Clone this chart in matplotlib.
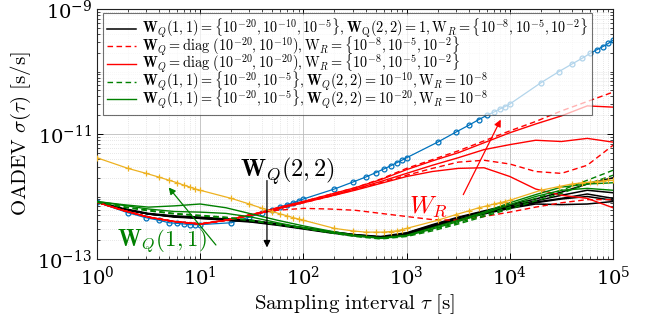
import numpy as np
import matplotlib
matplotlib.use("Agg")
import matplotlib.pyplot as plt
from matplotlib.ticker import FixedLocator, LogLocator, LogFormatterMathtext, NullFormatter

plt.rcParams['mathtext.fontset'] = 'cm'
plt.rcParams['font.family'] = ['DejaVu Serif']

# ---------------- data (log10 values) ----------------
# common tau grid for the filter curves (log10 tau)
log_tau = [0, 0.25, 0.5, 0.75, 1.0, 1.25, 1.5, 1.75, 2.0, 2.25, 2.5, 2.75,
           3.0, 3.25, 3.5, 3.75, 4.0, 4.25, 4.5, 4.75, 5.0]

# black: W_Q(1,1) in {1e-20,1e-10,1e-5}, W_Q(2,2)=1, W_R in {...}
black_curves = [
    [-12.09, -12.20, -12.28, -12.32, -12.34, -12.36, -12.38, -12.44, -12.50, -12.56, -12.61, -12.64,
     -12.58, -12.45, -12.33, -12.23, -12.13, -12.04, -11.93, -11.80, -11.70],
    [-12.09, -12.20, -12.28, -12.32, -12.34, -12.37, -12.40, -12.45, -12.51, -12.57, -12.62, -12.65,
     -12.59, -12.46, -12.34, -12.24, -12.15, -12.07, -11.98, -11.90, -11.94],
    [-12.09, -12.19, -12.27, -12.31, -12.33, -12.36, -12.39, -12.44, -12.50, -12.56, -12.61, -12.65,
     -12.60, -12.47, -12.36, -12.26, -12.17, -12.09, -12.03, -11.96, -12.03],
    [-12.09, -12.20, -12.28, -12.32, -12.35, -12.38, -12.41, -12.46, -12.52, -12.58, -12.63, -12.66,
     -12.61, -12.49, -12.38, -12.28, -12.19, -12.12, -12.13, -12.12, -12.08],
    [-12.09, -12.20, -12.28, -12.33, -12.35, -12.37, -12.40, -12.45, -12.51, -12.57, -12.62, -12.66,
     -12.60, -12.48, -12.37, -12.27, -12.18, -12.10, -12.04, -12.00, -12.06],
]

# red dashed: W_Q = diag(1e-20, 1e-10), three W_R
red_dashed_curves = [
    [-12.09, -12.22, -12.33, -12.40, -12.44, -12.38, -12.29, -12.18, -12.08, -11.97, -11.86, -11.72,
     -11.55, -11.41, -11.27, -11.11, -10.95, -10.80, -10.63, -10.48, -10.33],
    [-12.09, -12.22, -12.33, -12.40, -12.44, -12.38, -12.30, -12.20, -12.10, -12.00, -11.89, -11.78,
     -11.66, -11.55, -11.45, -11.42, -11.48, -11.60, -11.63, -11.50, -11.18],
    [-12.09, -12.22, -12.33, -12.40, -12.44, -12.38, -12.28, -12.22, -12.19, -12.20, -12.22, -12.27,
     -12.32, -12.37, -12.38, -12.32, -12.25, -12.17, -12.10, -12.05, -12.05],
]

# red solid: W_Q = diag(1e-20, 1e-20), three W_R
red_solid_curves = [
    [-12.09, -12.22, -12.33, -12.40, -12.44, -12.38, -12.29, -12.18, -12.08, -11.97, -11.86, -11.73,
     -11.57, -11.43, -11.30, -11.14, -10.98, -10.84, -10.71, -10.55, -10.57],
    [-12.09, -12.22, -12.33, -12.40, -12.44, -12.38, -12.30, -12.19, -12.09, -11.99, -11.88, -11.76,
     -11.63, -11.50, -11.38, -11.25, -11.17, -11.10, -11.12, -11.07, -11.13],
    [-12.09, -12.22, -12.33, -12.40, -12.44, -12.38, -12.30, -12.20, -12.10, -12.00, -11.90, -11.79,
     -11.68, -11.60, -11.55, -11.54, -11.68, -11.88, -11.98, -12.03, -12.18],
]

# green dashed: W_Q(1,1) in {1e-20,1e-5}, W_Q(2,2)=1e-10, W_R=1e-8
green_dashed_curves = [
    [-12.09, -12.16, -12.22, -12.27, -12.30, -12.33, -12.38, -12.44, -12.50, -12.57, -12.63, -12.67,
     -12.63, -12.53, -12.42, -12.30, -12.17, -12.03, -11.90, -11.74, -11.58],
    [-12.09, -12.17, -12.23, -12.28, -12.31, -12.34, -12.39, -12.45, -12.51, -12.58, -12.64, -12.68,
     -12.64, -12.55, -12.44, -12.32, -12.20, -12.07, -11.95, -11.80, -11.66],
]

# green solid: W_Q(1,1) in {1e-20,1e-5}, W_Q(2,2)=1e-20, W_R=1e-8
green_solid_curves = [
    [-12.08, -12.13, -12.17, -12.15, -12.12, -12.18, -12.28, -12.38, -12.47, -12.55, -12.62, -12.66,
     -12.62, -12.50, -12.38, -12.25, -12.10, -11.97, -11.85, -11.80, -11.78],
    [-12.08, -12.14, -12.20, -12.24, -12.25, -12.27, -12.33, -12.42, -12.50, -12.57, -12.63, -12.67,
     -12.63, -12.52, -12.40, -12.27, -12.13, -12.00, -11.90, -11.87, -11.90],
]

# marker curves sampled at 1..10, 20..100, ..., 1e4..1e5
tau_marks = [1, 2, 3, 4, 5, 6, 7, 8, 9,
             10, 20, 30, 40, 50, 60, 70, 80, 90,
             100, 200, 300, 400, 500, 600, 700, 800, 900,
             1000, 2000, 3000, 4000, 5000, 6000, 7000, 8000, 9000,
             10000, 20000, 30000, 40000, 50000, 60000, 70000, 80000, 90000, 100000]
blue_log = [-12.09, -12.26, -12.34, -12.38, -12.42, -12.43, -12.44, -12.45, -12.45,
            -12.45, -12.42, -12.33, -12.26, -12.21, -12.17, -12.13, -12.10, -12.07,
            -12.04, -11.88, -11.77, -11.69, -11.62, -11.56, -11.51, -11.46, -11.42,
            -11.38, -11.13, -10.97, -10.86, -10.77, -10.70, -10.65, -10.60, -10.56,
            -10.52, -10.18, -10.00, -9.88, -9.79, -9.71, -9.65, -9.60, -9.55, -9.50]
orange_log = [-11.38, -11.55, -11.63, -11.69, -11.74, -11.78, -11.82, -11.85, -11.88,
              -11.90, -12.03, -12.12, -12.19, -12.24, -12.28, -12.31, -12.34, -12.36,
              -12.38, -12.51, -12.55, -12.57, -12.57, -12.57, -12.56, -12.55, -12.53,
              -12.51, -12.38, -12.29, -12.23, -12.18, -12.15, -12.12, -12.10, -12.08,
              -12.06, -11.90, -11.84, -11.80, -11.78, -11.77, -11.76, -11.75, -11.74, -11.74]

x_ticks = [1, 10, 100, 1000, 10000, 100000]
y_ticks = [1e-13, 1e-11, 1e-9]

legend_labels = [
    r"$\mathbf{W}_Q(1,1)=\{10^{-20},10^{-10},10^{-5}\},\mathbf{W}_{\mathrm{Q}}(2,2)=1,\mathrm{W}_R=\{10^{-8},10^{-5},10^{-2}\}$",
    r"$\mathbf{W}_Q=\mathrm{diag}\ (10^{-20},10^{-10}),\mathrm{W}_R=\{10^{-8},10^{-5},10^{-2}\}$",
    r"$\mathbf{W}_Q=\mathrm{diag}\ (10^{-20},10^{-20}),\mathrm{W}_R=\{10^{-8},10^{-5},10^{-2}\}$",
    r"$\mathbf{W}_Q(1,1)=\{10^{-20},10^{-5}\},\mathbf{W}_Q(2,2)=10^{-10},\mathrm{W}_R=10^{-8}$",
    r"$\mathbf{W}_Q(1,1)=\{10^{-20},10^{-5}\},\mathbf{W}_Q(2,2)=10^{-20},\mathrm{W}_R=10^{-8}$",
]

# ---------------- plotting ----------------
fig = plt.figure(figsize=(6.46, 3.24), dpi=100)
ax = fig.add_axes([0.150, 0.2006, 0.799, 0.7716])

tau = 10.0 ** np.array(log_tau)
GREEN = '#008000'
BLUE = '#0072BD'
ORANGE = '#EDB120'

ax.plot(tau_marks, 10.0 ** np.array(blue_log), color=BLUE, lw=0.9, marker='o',
        ms=3.5, mfc='none', mew=0.9, zorder=2.5)
ax.plot(tau_marks, 10.0 ** np.array(orange_log), color=ORANGE, lw=0.9, marker='+',
        ms=4, mew=0.9, zorder=4)

handles = []
for i, c in enumerate(black_curves):
    h, = ax.plot(tau, 10.0 ** np.array(c), color='k', lw=1.1, zorder=3)
    if i == 0:
        handles.append(h)
for i, c in enumerate(red_dashed_curves):
    h, = ax.plot(tau, 10.0 ** np.array(c), color='r', lw=1.0, ls=(0, (4, 2.5)), zorder=3)
    if i == 0:
        handles.append(h)
for i, c in enumerate(red_solid_curves):
    h, = ax.plot(tau, 10.0 ** np.array(c), color='r', lw=1.0, zorder=3)
    if i == 0:
        handles.append(h)
for i, c in enumerate(green_dashed_curves):
    h, = ax.plot(tau, 10.0 ** np.array(c), color=GREEN, lw=1.0, ls=(0, (4, 2.5)), zorder=3)
    if i == 0:
        handles.append(h)
for i, c in enumerate(green_solid_curves):
    h, = ax.plot(tau, 10.0 ** np.array(c), color=GREEN, lw=1.0, zorder=3)
    if i == 0:
        handles.append(h)

ax.set_xscale('log')
ax.set_yscale('log')
ax.set_xlim(1, 1e5)
ax.set_ylim(1e-13, 1e-9)

ax.xaxis.set_major_locator(FixedLocator(x_ticks))
ax.xaxis.set_minor_locator(LogLocator(base=10, subs=np.arange(2, 10), numticks=20))
ax.yaxis.set_major_locator(FixedLocator(y_ticks))
ax.yaxis.set_minor_locator(LogLocator(base=10, subs=np.arange(1, 10), numticks=20))
ax.xaxis.set_major_formatter(LogFormatterMathtext())
ax.yaxis.set_major_formatter(LogFormatterMathtext())
ax.xaxis.set_minor_formatter(NullFormatter())
ax.yaxis.set_minor_formatter(NullFormatter())
ax.tick_params(which='both', direction='in', top=True, right=True, labelsize=14)
ax.tick_params(which='major', length=4, width=0.7)
ax.tick_params(which='minor', length=2, width=0.5)
ax.tick_params(axis='x', which='major', pad=5)

ax.grid(True, which='major', color='#bdbdbd', lw=0.6, ls='-')
ax.grid(True, which='minor', color='#d0d0d0', lw=0.5, ls=(0, (1, 2)))
ax.set_axisbelow(True)
for s in ax.spines.values():
    s.set_linewidth(0.8)
    s.set_color('#222222')

ax.set_xlabel(r"$\mathrm{Sampling\ interval}\ \tau\ \mathrm{[s]}$", fontsize=15, labelpad=2)
ax.set_ylabel(r"$\mathrm{OADEV}\ \sigma(\tau)\ \mathrm{[s/s]}$", fontsize=15, labelpad=3)

leg = ax.legend(handles, legend_labels, loc='upper left', bbox_to_anchor=(0.012, 0.985),
                borderaxespad=0, fontsize=10.3, fancybox=False, framealpha=0.7,
                edgecolor='#333333', handlelength=2.0, handletextpad=0.4,
                labelspacing=-0.38, borderpad=0.3)
leg.get_frame().set_linewidth(0.8)
leg.set_zorder(5)

# annotations
ax.annotate('', xy=(44.4, 10 ** -12.86), xytext=(44.4, 10 ** -11.70),
            arrowprops=dict(arrowstyle='-|>', color='k', lw=0.9, mutation_scale=10), zorder=6)
ax.text(10 ** 1.85, 10 ** -11.60, r"$\mathbf{W}_Q(2,2)$", fontsize=17.5, ha='center', va='center', zorder=6)

ax.annotate('', xy=(10 ** 0.678, 10 ** -11.82), xytext=(10 ** 1.17, 10 ** -12.81),
            arrowprops=dict(arrowstyle='-|>', color=GREEN, lw=0.9, mutation_scale=10), zorder=6)
ax.text(10 ** 0.63, 10 ** -12.72, r"$\mathbf{W}_Q(1,1)$", fontsize=16.5, ha='center', va='center',
        color=GREEN, zorder=6)

ax.annotate('', xy=(10 ** 3.924, 10 ** -10.73), xytext=(10 ** 3.537, 10 ** -12.01),
            arrowprops=dict(arrowstyle='-|>', color='r', lw=0.9, mutation_scale=10), zorder=6)
ax.text(10 ** 3.21, 10 ** -12.16, r"$W_R$", fontsize=18, ha='center', va='center', color='r', zorder=6)

fig.savefig('out.png', dpi=100)
